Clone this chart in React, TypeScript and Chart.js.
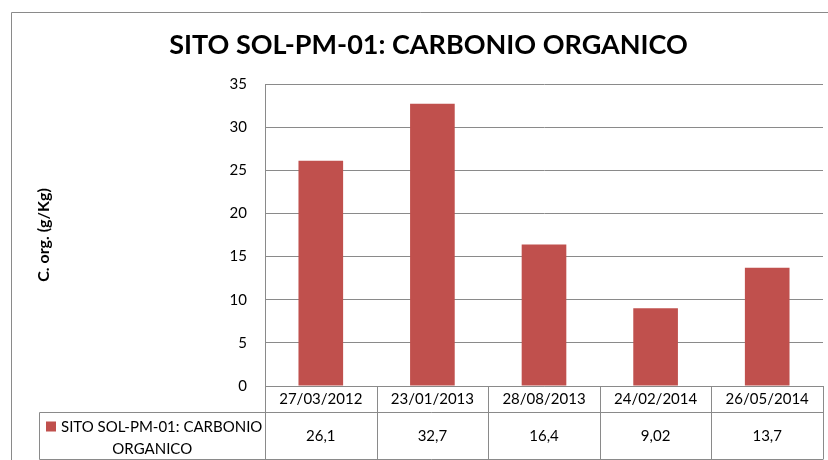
import React, { useEffect, useRef } from "react";
import { Chart, registerables } from "chart.js";

Chart.register(...registerables);

const TITLE = "SITO SOL-PM-01: CARBONIO ORGANICO";
const Y_TITLE = "C. org. (g/Kg)";
const SERIES_NAME_LINES = ["SITO SOL-PM-01: CARBONIO", "ORGANICO"];
const categories = ["27/03/2012", "23/01/2013", "28/08/2013", "24/02/2014", "26/05/2014"];
const values = [26.1, 32.7, 16.4, 9.02, 13.7];
const yTicks = { min: 0, max: 35, step: 5 };

const BAR_COLOR = "#C0504D";
const LINE_COLOR = "#8A8A8A";
const FONT = "Lato, 'Open Sans', sans-serif";

const tablePlugin = {
  id: "dataTable",
  beforeDraw(chart: any) {
    const { ctx } = chart;
    ctx.save();
    ctx.strokeStyle = LINE_COLOR;
    ctx.lineWidth = 1;
    ctx.beginPath();
    ctx.moveTo(11.5, 470);
    ctx.lineTo(11.5, 12.5);
    ctx.lineTo(840, 12.5);
    ctx.stroke();
    ctx.restore();
  },
  afterDraw(chart: any) {
    const { ctx, chartArea } = chart;
    const xs = chart.scales.x;
    const n = categories.length;
    const left = chartArea.left;
    const right = chartArea.right;
    const colW = (right - left) / n;
    const top1 = Math.round(chartArea.bottom) + 0.5;
    const top2 = top1 + 26;
    const bottom = top1 + 73;
    const legendLeft = 39.5;

    ctx.save();
    ctx.strokeStyle = LINE_COLOR;
    ctx.lineWidth = 1;
    ctx.beginPath();
    for (let i = 0; i <= n; i++) {
      const x = Math.round(left + i * colW) + 0.5;
      ctx.moveTo(x, top1);
      ctx.lineTo(x, bottom);
    }
    ctx.moveTo(legendLeft, top2);
    ctx.lineTo(right, top2);
    ctx.moveTo(legendLeft, bottom);
    ctx.lineTo(right, bottom);
    ctx.moveTo(legendLeft, top2);
    ctx.lineTo(legendLeft, bottom);
    ctx.stroke();

    // values row
    ctx.fillStyle = "#000";
    ctx.font = `15px ${FONT}`;
    ctx.textAlign = "center";
    ctx.textBaseline = "middle";
    const rowMid = (top2 + bottom) / 2;
    values.forEach((v, i) => {
      const cx = xs.getPixelForValue(i);
      ctx.fillText(String(v).replace(".", ","), cx, rowMid);
    });

    // legend cell
    ctx.fillStyle = BAR_COLOR;
    ctx.fillRect(46, top2 + 9, 10, 10);
    ctx.fillStyle = "#000";
    ctx.textAlign = "left";
    ctx.fillText(SERIES_NAME_LINES[0], 61, top2 + 15);
    ctx.textAlign = "center";
    ctx.fillText(SERIES_NAME_LINES[1], (legendLeft + left) / 2, top2 + 37);
    ctx.restore();
  },
};

export default function App() {
  const canvasRef = useRef<HTMLCanvasElement | null>(null);

  useEffect(() => {
    if (!canvasRef.current) return;
    const chart = new Chart(canvasRef.current, {
      type: "bar",
      data: {
        labels: categories,
        datasets: [
          {
            label: SERIES_NAME_LINES.join(" "),
            data: values,
            backgroundColor: BAR_COLOR,
            borderWidth: 0,
            categoryPercentage: 1,
            barPercentage: 0.4,
          },
        ],
      },
      options: {
        responsive: false,
        animation: false,
        layout: { padding: { left: 34, right: 5, top: 0, bottom: 0 } },
        plugins: {
          legend: { display: false },
          tooltip: { enabled: false },
          title: {
            display: true,
            text: TITLE,
            color: "#000",
            font: { family: FONT, size: 27, weight: "bold" },
            padding: { top: 29, bottom: 22.6 },
          },
        },
        scales: {
          x: {
            type: "category",
            offset: true,
            grid: { display: false, drawTicks: false },
            border: { display: true, color: LINE_COLOR },
            ticks: { color: "#000", font: { family: FONT, size: 15 }, padding: 4, maxRotation: 0 },
            afterFit: (scale: any) => {
              scale.height = 74;
            },
          },
          y: {
            min: yTicks.min,
            max: yTicks.max,
            ticks: { stepSize: yTicks.step, color: "#000", font: { family: FONT, size: 15 }, padding: 18 },
            grid: { color: LINE_COLOR, drawTicks: false },
            border: { display: true, color: LINE_COLOR },
            title: {
              display: true,
              text: Y_TITLE,
              color: "#000",
              font: { family: FONT, size: 16, weight: "bold" },
              padding: { top: 0, bottom: 0 },
            },
            afterFit: (scale: any) => {
              scale.width = 231;
            },
          },
        },
      },
      plugins: [tablePlugin],
    });
    return () => chart.destroy();
  }, []);

  return (
    <div style={{ position: "fixed", left: 0, top: 0, width: 828, height: 460, background: "#fff" }}>
      <canvas ref={canvasRef} width={828} height={460} style={{ display: "block" }} />
    </div>
  );
}
